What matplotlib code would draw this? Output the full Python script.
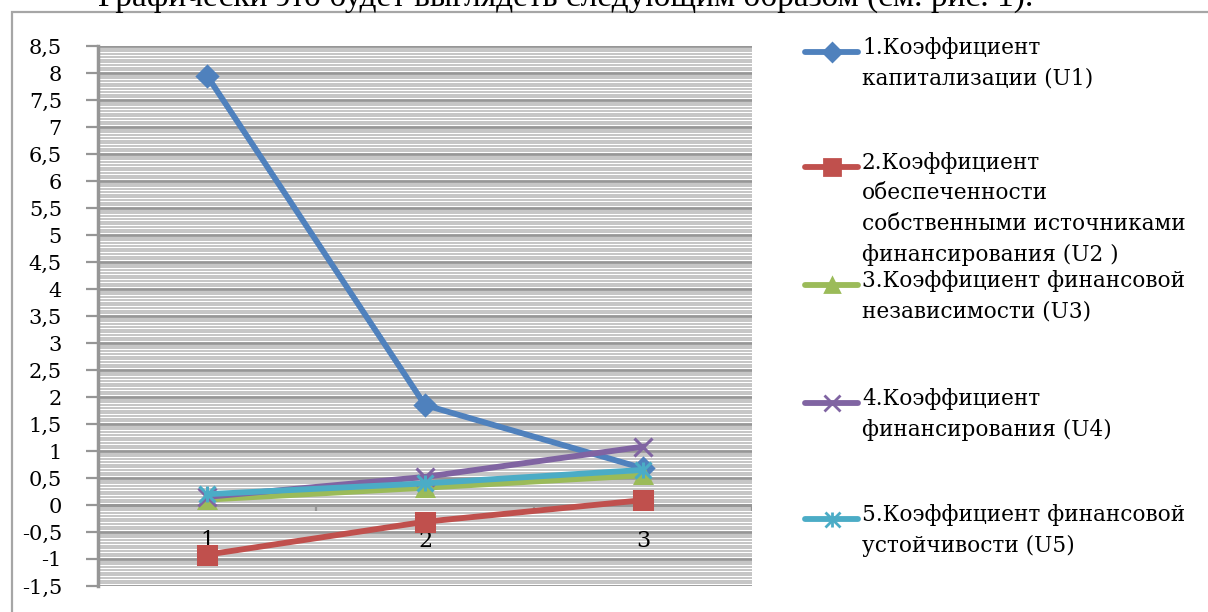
import matplotlib
matplotlib.use("Agg")
import matplotlib.pyplot as plt
from matplotlib.lines import Line2D
from matplotlib.patches import Rectangle
import numpy as np

# data: three periods, five ratios
categories = ["1", "2", "3"]
u1 = [7.95, 1.85, 0.68]
u2 = [-0.92, -0.31, 0.09]
u3 = [0.10, 0.32, 0.55]
u4 = [0.15, 0.52, 1.08]
u5 = [0.20, 0.40, 0.65]

labels = [
    "1.Коэффициент\nкапитализации (U1)",
    "2.Коэффициент\nобеспеченности\nсобственными источниками\nфинансирования (U2 )",
    "3.Коэффициент финансовой\nнезависимости (U3)",
    "4.Коэффициент\nфинансирования (U4)",
    "5.Коэффициент финансовой\nустойчивости (U5)",
]
colors = ["#4F81BD", "#C0504D", "#9BBB59", "#8064A2", "#4BACC6"]
markers = ["D", "s", "^", "x", "x"]
msizes = [10, 13, 11, 13, 12]
series = [u1, u2, u3, u4, u5]

serif = ["DejaVu Serif"]
times = ["Liberation Serif", "DejaVu Serif"]

fig = plt.figure(figsize=(12.08, 6.12), dpi=100)
fig.patch.set_facecolor("white")

# caption line from the page, cut at the top edge
fig.text(0.468, 1.004, "Графически это будет выглядеть следующим образом (см. рис. 1).",
         ha="center", va="center", fontsize=24, family=times)

# chart border
fig.patches.append(Rectangle((12 / 1208, -0.2), 1.2, 1.2 - 12 / 612,
                             transform=fig.transFigure, fill=False,
                             edgecolor="#a6a6a6", lw=1.6))

ax = fig.add_axes([98 / 1208, 26 / 612, 654 / 1208, 540 / 612])
ax.set_xlim(0.5, 3.5)
ax.set_ylim(-1.5, 8.5)

yt = np.arange(-1.5, 8.51, 0.5)
ax.set_yticks(yt)
ax.set_yticklabels([("%g" % v).replace(".", ",") for v in yt],
                   family=serif, fontsize=15)
ax.set_yticks(np.arange(-1.5, 8.51, 0.05), minor=True)
ax.tick_params(axis="y", which="major", length=9, width=1.6, color="#969696", pad=17)
ax.tick_params(axis="y", which="minor", length=0)
ax.set_xticks([])
ax.grid(axis="y", which="minor", color="#c0c0c0", lw=1.3)
ax.grid(axis="y", which="major", color="#969696", lw=2.0)
ax.set_axisbelow(True)
for s in ["top", "right", "bottom"]:
    ax.spines[s].set_visible(False)
ax.spines["left"].set_color("#969696")
ax.spines["left"].set_linewidth(2.5)

# category axis through zero
ax.axhline(0, color="#969696", lw=2.0, zorder=1)
ax.vlines([1.5, 2.5, 3.5], -0.12, 0, color="#969696", lw=1.6, zorder=1)
x = np.arange(1, len(categories) + 1)
for xi, c in zip(x, categories):
    ax.text(xi, -0.67, c, ha="center", va="center", fontsize=16, family=serif)

for i, (ys, col, m, ms) in enumerate(zip(series, colors, markers, msizes)):
    ax.plot(x, ys, color=col, lw=4.2, marker=m, ms=ms, mew=2.2,
            mfc=col, mec=col, zorder=3, clip_on=False)
    if i == 4:
        # asterisk marker: add the vertical stroke
        ax.plot(x, ys, ls="none", marker="|", ms=ms, mew=2.2, color=col,
                zorder=3, clip_on=False)

# legend on the right
leg_y = [52, 167, 285, 403, 519]
for i, (ypix, lab, col, m, ms) in enumerate(zip(leg_y, labels, colors, markers, msizes)):
    yf = 1 - ypix / 612
    fig.add_artist(Line2D([805 / 1208, 858 / 1208], [yf, yf], transform=fig.transFigure,
                          color=col, lw=4.2, solid_capstyle="round"))
    fig.add_artist(Line2D([832 / 1208], [yf], transform=fig.transFigure, color=col,
                          marker=m, ms=ms * 0.9, mew=2.0, mfc=col, mec=col))
    if i == 4:
        fig.add_artist(Line2D([832 / 1208], [yf], transform=fig.transFigure, color=col,
                              marker="|", ms=ms * 0.9, mew=2.0))
    fig.text(862 / 1208, yf + 15 / 612, lab, ha="left", va="top", fontsize=15.6,
             family=serif, linespacing=1.5)

fig.savefig("out.png", dpi=100)
